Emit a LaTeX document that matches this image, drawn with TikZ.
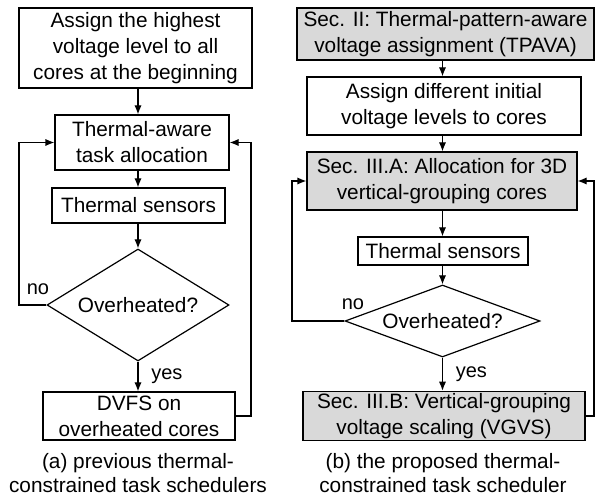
\documentclass[tikz,border=0pt]{standalone}
\usepackage{fontspec}
\setmainfont{Liberation Sans}
\usepackage{xcolor}
\usepackage{tikz}
\usetikzlibrary{positioning,arrows.meta,calc,shapes.geometric}

\begin{document}
\begin{tikzpicture}[
    x=0.5pt, y=-0.5pt,
    box/.style={rectangle, draw, line width=0.6pt, align=center, inner sep=1pt, font=\fontsize{10.4}{13}\selectfont},
    grbox/.style={box, fill=black!15},
    dec/.style={diamond, draw, line width=0.6pt, inner sep=0pt, font=\fontsize{10.4}{13}\selectfont},
    arrow/.style={-{Latex[length=4.5pt,width=3.6pt]}, line width=0.6pt},
    lbl/.style={font=\fontsize{10}{12}\selectfont},
    captxt/.style={align=center, font=\fontsize{10.4}{11.6}\selectfont}
]
\useasboundingbox (0,0) rectangle (595,497);

% (a) previous scheduler
\node[box, minimum width=116.5pt, minimum height=40pt] (init) at (135.5,48)
    {Assign the highest\\voltage level to all\\cores at the beginning};
\node[box, minimum width=87pt, minimum height=27.5pt] (alloc) at (142,142.5)
    {Thermal-aware\\task allocation};
\node[box, minimum width=86.5pt, minimum height=17.5pt] (sens) at (138.5,205.5)
    {Thermal sensors};
\node[dec, shape aspect=1.6, minimum width=91pt, minimum height=56pt] (hot) at (138,305)
    {Overheated?};
\node[box, minimum width=96pt, minimum height=24pt] (dvfs) at (139,416)
    {DVFS on\\overheated cores};

\draw[arrow] (init.south -| hot.north) -- (alloc.north -| hot.north);
\draw[arrow] (alloc.south -| hot.north) -- (sens.north -| hot.north);
\draw[arrow] (sens.south -| hot.north) -- (hot.north);
\draw[arrow] (hot.south) -- (dvfs.north -| hot.south) node[lbl, midway, right=3pt] {yes};

% loops
\coordinate (noA) at (19,0);
\coordinate (backA) at (251,0);
\draw[arrow] (hot.west) -- (hot.west -| noA) |- (alloc.west);
\node[lbl] (noa) at (38,289) {no};
\draw[arrow] (dvfs.east) -- (dvfs.east -| backA) |- (alloc.east);

\node[captxt] (capa) at (138,473) {(a) previous thermal-\\constrained task schedulers};

% (b) proposed scheduler
\node[grbox, minimum width=148.5pt, minimum height=26pt] (tpava) at (445.5,34)
    {Sec. II: Thermal-pattern-aware\\voltage assignment (TPAVA)};
\node[box, minimum width=137pt, minimum height=29pt] (vinit) at (444,106)
    {Assign different initial\\voltage levels to cores};
\node[grbox, minimum width=135pt, minimum height=29pt] (valloc) at (442,181)
    {Sec. III.A: Allocation for 3D\\vertical-grouping cores};
\node[box, minimum width=85pt, minimum height=14pt] (vsens) at (443,251)
    {Thermal sensors};
\node[dec, shape aspect=2.7, minimum width=97.5pt, minimum height=36pt] (vhot) at (442.5,321)
    {Overheated?};
\node[grbox, minimum width=141pt, minimum height=24pt] (vgvs) at (444,416)
    {Sec. III.B: Vertical-grouping\\voltage scaling (VGVS)};

\draw[arrow] (tpava.south -| vhot.north) -- (vinit.north -| vhot.north);
\draw[arrow] (vinit.south -| vhot.north) -- (valloc.north -| vhot.north);
\draw[arrow] (valloc.south -| vhot.north) -- (vsens.north -| vhot.north);
\draw[arrow] (vsens.south -| vhot.north) -- (vhot.north);
\draw[arrow] (vhot.south) -- (vgvs.north -| vhot.south) node[lbl, midway, right=3pt] {yes};

% loops
\coordinate (noB) at (292,0);
\coordinate (backB) at (594,0);
\draw[arrow] (vhot.west) -- (vhot.west -| noB) |- (valloc.west);
\node[lbl] (nob) at (353,304) {no};
\draw[arrow] (vgvs.east) -- (vgvs.east -| backB) |- (valloc.east);

\node[captxt] (capb) at (443,473) {(b) the proposed thermal-\\constrained task scheduler};

\end{tikzpicture}
\end{document}
